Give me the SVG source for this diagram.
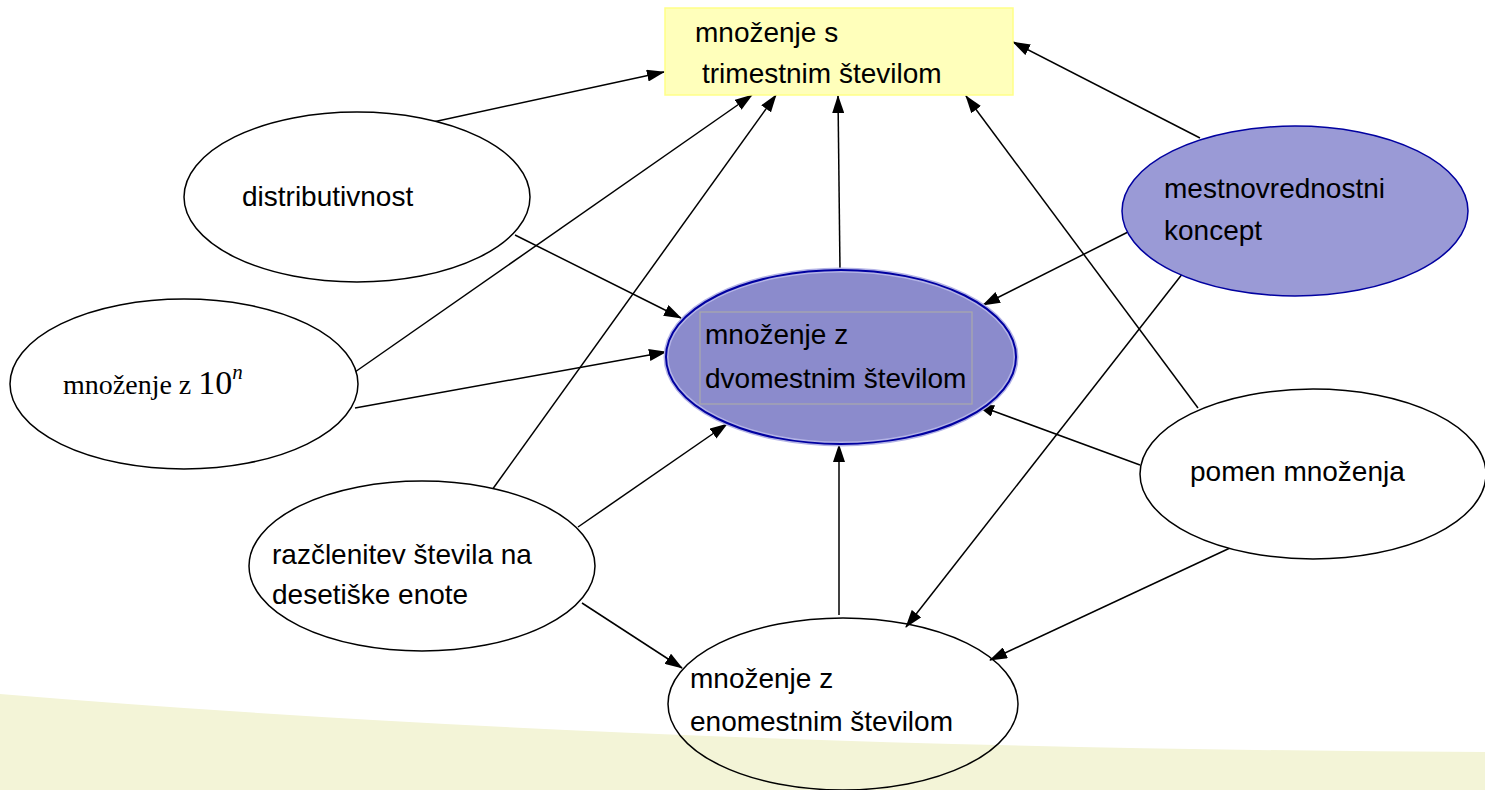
<svg xmlns="http://www.w3.org/2000/svg" width="1485" height="790" viewBox="0 0 1485 790">
<defs>
<marker id="arr" markerUnits="userSpaceOnUse" markerWidth="18" markerHeight="12" refX="17" refY="6" orient="auto">
<path d="M0,0 L18,6 L0,12 Z" fill="#000"/>
</marker>
<style>
.edge{stroke:#000;stroke-width:1.5;fill:none;marker-end:url(#arr)}
.node{fill:#fff;stroke:#000;stroke-width:1.5}
.t{font-family:"Liberation Sans",Arial,sans-serif;font-size:28px;fill:#000}
.s{font-family:"Liberation Serif","Times New Roman",serif;fill:#000}
</style>
</defs>
<rect width="1485" height="790" fill="#fff"/>
<path d="M0,694 Q650,748 1485,752 L1485,790 L0,790 Z" fill="#f3f4d7"/>
<g id="connectors">
<line class="edge" x1="433" y1="122" x2="664" y2="72"/>
<line class="edge" x1="355" y1="372" x2="752" y2="95"/>
<line class="edge" x1="492" y1="490" x2="776" y2="95"/>
<line class="edge" x1="840" y1="270" x2="838" y2="96"/>
<line class="edge" x1="1198" y1="408" x2="966" y2="96"/>
<line class="edge" x1="1200" y1="138" x2="1013" y2="42"/>
<line class="edge" x1="515" y1="235" x2="681" y2="318"/>
<line class="edge" x1="355" y1="408" x2="666" y2="352"/>
<line class="edge" x1="578" y1="527" x2="727" y2="424"/>
<line class="edge" x1="1128" y1="232" x2="983" y2="305"/>
<line class="edge" x1="1140" y1="465" x2="977" y2="405"/>
<line class="edge" x1="839" y1="615" x2="839" y2="445"/>
<line class="edge" x1="582" y1="603" x2="682" y2="668"/>
<line class="edge" x1="1183" y1="273" x2="906" y2="627"/>
<line class="edge" x1="1230" y1="548" x2="990" y2="660"/>
</g>
<g id="n-trimestnim">
<rect x="665" y="8" width="348" height="87" fill="#ffffbb" stroke="#ffff88" stroke-width="1.5"/>
<text class="t" x="695" y="42">množenje s</text>
<text class="t" x="702" y="83">trimestnim številom</text>
</g>
<g id="n-distributivnost">
<ellipse class="node" cx="357" cy="197" rx="173" ry="85"/>
<text class="t" x="242" y="206">distributivnost</text>
</g>
<g id="n-10n">
<ellipse class="node" cx="184" cy="384" rx="174" ry="85"/>
<text class="s" x="63" y="394" font-size="28">množenje z <tspan font-size="34">10</tspan><tspan font-size="21" font-style="italic" dy="-15">n</tspan></text>
</g>
<g id="n-dvomestnim">
<ellipse cx="841" cy="357" rx="175" ry="87" fill="#8b8bcc" stroke="#b4b4e6" stroke-width="5"/>
<ellipse cx="841" cy="357" rx="175" ry="87" fill="none" stroke="#0000a0" stroke-width="2"/>
<rect x="700" y="312" width="272" height="92" fill="none" stroke="#aaaaaa" stroke-width="1.2"/>
<text class="t" x="705" y="344">množenje z</text>
<text class="t" x="705" y="388">dvomestnim številom</text>
</g>
<g id="n-mestnovrednostni">
<ellipse cx="1295" cy="211" rx="173" ry="85" fill="#9a9ad6" stroke="#0000a0" stroke-width="1.5"/>
<text class="t" x="1164" y="198">mestnovrednostni</text>
<text class="t" x="1164" y="240">koncept</text>
</g>
<g id="n-razclenitev">
<ellipse class="node" cx="422" cy="566" rx="173" ry="85"/>
<text class="t" x="272" y="564">razčlenitev števila na</text>
<text class="t" x="272" y="604">desetiške enote</text>
</g>
<g id="n-pomen">
<ellipse class="node" cx="1313" cy="474" rx="173" ry="85"/>
<text class="t" x="1190" y="481">pomen množenja</text>
</g>
<g id="n-enomestnim">
<ellipse cx="843" cy="704" rx="175" ry="86" fill="none" stroke="#000" stroke-width="1.5"/>
<text class="t" x="690" y="688">množenje z</text>
<text class="t" x="690" y="731">enomestnim številom</text>
</g>
</svg>
